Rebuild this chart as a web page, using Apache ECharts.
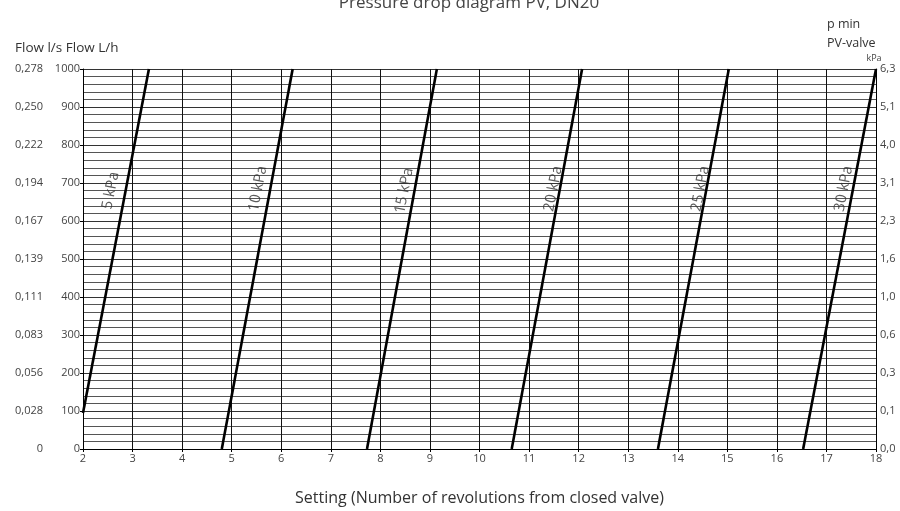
<!DOCTYPE html>
<html>
<head>
<meta charset="utf-8">
<script src="https://cdn.jsdelivr.net/npm/echarts@6/dist/echarts.min.js"></script>
<style>html,body{margin:0;padding:0;background:#fff}#c{width:900px;height:511px}</style>
</head>
<body>
<div id="c"></div>
<script>
// ---- data ----
var pressures = [5, 10, 15, 20, 25, 30];               // kPa curves
var settingLow = [2.0, 4.80, 7.73, 10.65, 13.60, 16.53]; // setting at lower end
var flowLow = [95, 0, 0, 0, 0, 0];                       // L/h at lower end
var settingHigh = [3.33, 6.23, 9.14, 12.07, 15.03, 18.0];// setting at upper end
var flowHigh = [1000, 1000, 1000, 1000, 1000, 1000];     // L/h at upper end
var labelSetting = [2.56, 5.53, 8.48, 11.49, 14.46, 17.35];
var labelFlow = [680, 685, 680, 685, 685, 685];
var flowLhTicks = [0, 100, 200, 300, 400, 500, 600, 700, 800, 900, 1000];
var flowLsLabels = ['0', '0,028', '0,056', '0,083', '0,111', '0,139', '0,167', '0,194', '0,222', '0,250', '0,278'];
var pminLabels = ['0,0', '0,1', '0,3', '0,6', '1,0', '1,6', '2,3', '3,1', '4,0', '5,1', '6,3'];

var FONT = '"Open Sans", "Noto Sans", sans-serif';
var chart = echarts.init(document.getElementById('c'), null, {renderer: 'canvas'});

function idx(v) { return flowLhTicks.indexOf(Math.round(v)); }

var series = pressures.map(function (p, i) {
  return {
    type: 'line', name: p + ' kPa', yAxisIndex: 0, symbol: 'none', silent: true,
    lineStyle: {color: '#000', width: 2.6},
    data: [[settingLow[i], flowLow[i]], [settingHigh[i], flowHigh[i]]],
    z: 5
  };
});
series.push({
  type: 'scatter', yAxisIndex: 0, symbolSize: 0, silent: true,
  data: labelSetting.map(function (s, i) { return [s, labelFlow[i], pressures[i]]; }),
  label: {
    show: true, position: 'inside', rotate: 79, fontSize: 15, color: '#333', fontFamily: FONT,
    formatter: function (d) { return d.value[2] + ' kPa'; }
  },
  z: 6
});

chart.setOption({
  animation: false,
  backgroundColor: '#fff',
  title: [
    {text: 'Pressure drop diagram PV, DN20', left: 464, textAlign: 'center', top: -10,
     textStyle: {fontSize: 17, fontWeight: 'normal', color: '#444', fontFamily: FONT}},
    {text: 'Flow l/s Flow L/h', left: 10, top: 36,
     textStyle: {fontSize: 13.5, fontWeight: 'normal', color: '#333', fontFamily: FONT}},
    {text: 'p min\nPV-valve', left: 822, top: 10,
     textStyle: {fontSize: 12.5, fontWeight: 'normal', color: '#333', fontFamily: FONT, lineHeight: 19}}
  ],
  grid: {left: 83, right: 24, top: 69, bottom: 62, containLabel: false},
  xAxis: {
    type: 'value', min: 2, max: 18, interval: 1,
    name: 'Setting (Number of revolutions from closed valve)',
    nameLocation: 'middle', nameGap: 41,
    nameTextStyle: {fontSize: 16, color: '#333', fontFamily: FONT},
    axisLine: {show: true, lineStyle: {color: '#000', width: 1}},
    axisTick: {show: true, length: 3, lineStyle: {color: '#000'}},
    axisLabel: {fontSize: 11, color: '#444', margin: 4, fontFamily: FONT},
    splitLine: {show: true, lineStyle: {color: '#111', width: 1}}
  },
  yAxis: [
    {
      type: 'value', position: 'left', min: 0, max: 1000, interval: 100,
      axisLine: {show: true, lineStyle: {color: '#000', width: 1}},
      axisTick: {show: true, length: 3, lineStyle: {color: '#000'}},
      axisLabel: {fontSize: 11, color: '#444', margin: 3, fontFamily: FONT,
                  formatter: function (v) { return String(flowLhTicks[idx(v)]); }},
      splitLine: {show: true, lineStyle: {color: '#333', width: 1}},
      minorTick: {show: false, splitNumber: 5},
      minorSplitLine: {show: true, lineStyle: {color: '#555', width: 1}}
    },
    {
      type: 'value', position: 'left', offset: 37, min: 0, max: 1000, interval: 100,
      axisLine: {show: false}, axisTick: {show: false}, splitLine: {show: false},
      axisLabel: {fontSize: 11, color: '#444', margin: 3, fontFamily: FONT,
                  formatter: function (v) { return flowLsLabels[idx(v)]; }}
    },
    {
      type: 'value', position: 'right', min: 0, max: 1000, interval: 100,
      name: 'kPa', nameGap: 6,
      nameTextStyle: {fontSize: 9, color: '#444', fontFamily: FONT, align: 'center', padding: [0, 0, 0, -4]},
      axisLine: {show: true, lineStyle: {color: '#000', width: 1}},
      axisTick: {show: false}, splitLine: {show: false},
      axisLabel: {fontSize: 11, color: '#444', margin: 4, fontFamily: FONT,
                  formatter: function (v) { return pminLabels[idx(v)]; }}
    }
  ],
  series: series
});
</script>
</body>
</html>
